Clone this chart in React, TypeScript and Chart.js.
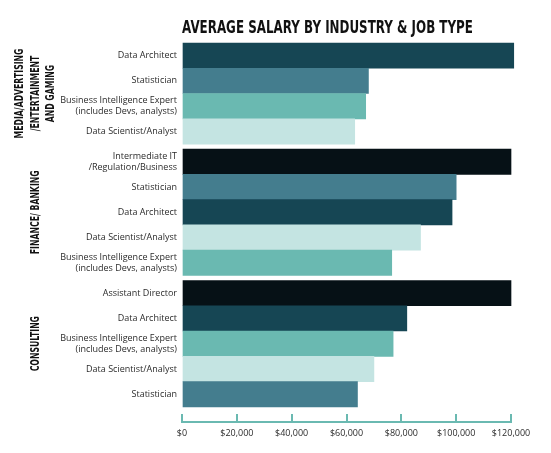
import { useEffect, useRef } from "react";
import { Chart, registerables } from "chart.js";

Chart.register(...registerables);

const chartTitle = "AVERAGE SALARY BY INDUSTRY & JOB TYPE";

const groupTitles = [
  ["MEDIA/ADVERTISING", "/ENTERTAINMENT", "AND GAMING"],
  ["FINANCE/ BANKING"],
  ["CONSULTING"],
];

const BI = "Business Intelligence Expert\n(includes Devs, analysts)";

const mediaJobs = ["Data Architect", "Statistician", BI, "Data Scientist/Analyst"];
const mediaValues = [121000, 68000, 67000, 63000];

const financeJobs = [
  "Intermediate IT\n/Regulation/Business",
  "Statistician",
  "Data Architect",
  "Data Scientist/Analyst",
  BI,
];
const financeValues = [120000, 100000, 98500, 87000, 76500];

const consultingJobs = [
  "Assistant Director",
  "Data Architect",
  BI,
  "Data Scientist/Analyst",
  "Statistician",
];
const consultingValues = [120000, 82000, 77000, 70000, 64000];

const xTickValues = [0, 20000, 40000, 60000, 80000, 100000, 120000];

const jobColors: Record<string, string> = {
  "Data Architect": "#164654",
  Statistician: "#447d8e",
  [BI]: "#6ab9b1",
  "Data Scientist/Analyst": "#c4e4e2",
};
const seniorColor = "#061116";
const colorFor = (job: string) => jobColors[job] ?? seniorColor;

const GROUP_GAP = 0.2;
const BOTTOM_SPACE = 0.6;

export default function App() {
  const ref = useRef<HTMLCanvasElement | null>(null);

  useEffect(() => {
    document.body.style.margin = "0";
    const groups = [
      { title: groupTitles[0], jobs: mediaJobs, values: mediaValues },
      { title: groupTitles[1], jobs: financeJobs, values: financeValues },
      { title: groupTitles[2], jobs: consultingJobs, values: consultingValues },
    ];
    const points: { x: number; y: number }[] = [];
    const labels: string[][] = [];
    const colors: string[] = [];
    const ranges: [number, number][] = [];
    let idx = 0;
    groups.forEach((g, gi) => {
      const start = idx + gi * GROUP_GAP;
      g.jobs.forEach((job, k) => {
        points.push({ x: g.values[k], y: start + k + 0.5 });
        labels.push(job.split("\n"));
        colors.push(colorFor(job));
      });
      ranges.push([start, start + g.jobs.length]);
      idx += g.jobs.length;
    });
    const yMax = idx + (groups.length - 1) * GROUP_GAP + BOTTOM_SPACE;

    const textPlugin = {
      id: "texts",
      afterDraw(chart: any) {
        const ctx = chart.ctx as CanvasRenderingContext2D;
        const area = chart.chartArea;
        const ys = chart.scales.y;
        ctx.save();
        ctx.fillStyle = "#111111";
        ctx.font = 'bold 17.5px "DejaVu Sans"';
        ctx.textBaseline = "alphabetic";
        ctx.textAlign = "left";
        ctx.translate(area.left, 33.3);
        ctx.scale(0.68, 1);
        ctx.fillText(chartTitle, 0, 0);
        ctx.restore();

        groups.forEach((g, gi) => {
          const [s, e] = ranges[gi];
          const cy = ys.getPixelForValue((s + e) / 2);
          ctx.save();
          ctx.fillStyle = "#111111";
          ctx.translate(34, cy);
          ctx.rotate(-Math.PI / 2);
          ctx.scale(0.62, 1);
          ctx.font = 'bold 12.5px "DejaVu Sans"';
          ctx.textAlign = "center";
          ctx.textBaseline = "alphabetic";
          const n = g.title.length;
          g.title.forEach((line, i) => {
            ctx.fillText(line, 0, (i - (n - 1) / 2) * 15.5 + 4.5);
          });
          ctx.restore();
        });
      },
    };

    const chart = new Chart(ref.current as HTMLCanvasElement, {
      type: "bar",
      data: {
        datasets: [
          {
            data: points as any,
            backgroundColor: colors,
            borderWidth: 0,
            barPercentage: 1,
            categoryPercentage: 1,
            clip: false as any,
          },
        ],
      },
      options: {
        indexAxis: "y",
        animation: false,
        responsive: false,
        maintainAspectRatio: false,
        layout: { padding: { top: 43, right: 40, left: 0, bottom: 0 } },
        plugins: {
          legend: { display: false },
          tooltip: { enabled: false },
          title: { display: false },
        },
        scales: {
          x: {
            type: "linear",
            position: "bottom",
            min: 0,
            max: 120000,
            afterBuildTicks: (s: any) => {
              s.ticks = xTickValues.map((v) => ({ value: v }));
            },
            afterFit: (s: any) => {
              s.height = 31;
            },
            ticks: {
              callback: (v: any) => "$" + Number(v).toLocaleString("en-US"),
              font: { family: "Open Sans", size: 9 },
              color: "#2b2b2b",
              padding: 14.5,
              maxRotation: 0,
              autoSkip: false,
            },
            grid: {
              drawOnChartArea: false,
              drawTicks: true,
              tickLength: -8,
              color: "#6ab9b1",
              lineWidth: 2,
            },
            border: { display: true, color: "#6ab9b1", width: 2 },
          },
          y: {
            type: "linear",
            reverse: true,
            offset: false,
            min: 0,
            max: yMax,
            afterBuildTicks: (s: any) => {
              s.ticks = points.map((p) => ({ value: p.y }));
            },
            afterFit: (s: any) => {
              s.width = 182;
              s.paddingTop = 0;
              s.paddingBottom = 0;
            },
            ticks: {
              callback: (_v: any, i: number) => labels[i],
              autoSkip: false,
              font: { family: "Open Sans", size: 9 },
              color: "#2b2b2b",
              padding: 5,
            },
            grid: { display: false, drawTicks: false, offset: false },
            border: { display: false },
          },
        },
      } as any,
      plugins: [textPlugin],
    });
    return () => chart.destroy();
  }, []);

  return (
    <div style={{ width: 551, height: 453 }}>
      <canvas ref={ref} width={551} height={453} />
    </div>
  );
}
